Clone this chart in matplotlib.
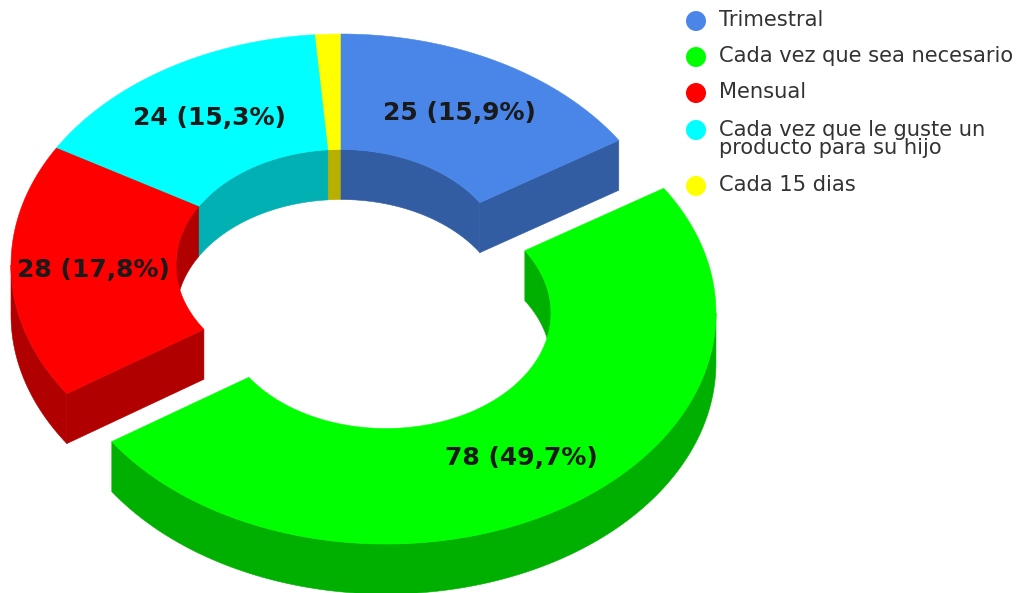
import numpy as np
import matplotlib
matplotlib.use("Agg")
import matplotlib.pyplot as plt
from matplotlib.patches import Polygon, Circle

labels = ["Trimestral", "Cada vez que sea necesario", "Mensual",
          "Cada vez que le guste un\nproducto para su hijo", "Cada 15 dias"]
values = [25, 78, 28, 24, 2]
slice_labels = ["25 (15,9%)", "78 (49,7%)", "28 (17,8%)", "24 (15,3%)", None]
colors = ["#4a86e8", "#00ff00", "#ff0000", "#00ffff", "#ffff00"]
dark = ["#325da3", "#00b000", "#b00000", "#00b0b2", "#b8b000"]
explode = [0, 82, 0, 0, 0]
draw_order = [4, 3, 0, 2, 1]

CX, CY = 341, 265
A, B = 330, 231
IN = 0.5
DEPTH = 50
ratio = B / A

fig = plt.figure(figsize=(10.18, 5.93), dpi=100)
ax = fig.add_axes([0, 0, 1, 1])
ax.set_xlim(0, 1018)
ax.set_ylim(593, 0)
ax.axis("off")


def arc(t0, t1, k, dx, dy, dz=0):
    t = np.radians(np.linspace(t0, t1, max(int(abs(t1 - t0)) * 2, 2)))
    return np.column_stack([CX + dx + k * A * np.sin(t),
                            CY + dy - k * B * np.cos(t) + dz])


def wall(t0, t1, k, dx, dy, col, z):
    if t1 <= t0:
        return
    top = arc(t0, t1, k, dx, dy)
    bot = arc(t0, t1, k, dx, dy, DEPTH)
    ax.add_patch(Polygon(np.vstack([top, bot[::-1]]), fc=col, ec=col, lw=0.4, zorder=z))


total = sum(values)
ang = np.concatenate([[0], np.cumsum(values) / total * 360])

for z, i in enumerate(draw_order):
    t0, t1 = ang[i], ang[i + 1]
    mid = np.radians((t0 + t1) / 2)
    dx = explode[i] * np.sin(mid)
    dy = -explode[i] * ratio * np.cos(mid)
    base = z * 10
    wall(max(t0, 0), min(t1, 90), IN, dx, dy, dark[i], base)
    wall(max(t0, 270), min(t1, 360), IN, dx, dy, dark[i], base)
    wall(max(t0, 90), min(t1, 270), 1, dx, dy, dark[i], base + 1)
    for t, vis in ((t0, np.sin(np.radians(t0)) < -1e-6), (t1, np.sin(np.radians(t1)) > 1e-6)):
        if vis:
            a = arc(t, t, 1, dx, dy)[0]
            b = arc(t, t, IN, dx, dy)[0]
            ax.add_patch(Polygon([a, b, b + [0, DEPTH], a + [0, DEPTH]],
                                 fc=dark[i], ec=dark[i], lw=0.4, zorder=base + 2))
    ax.add_patch(Polygon(np.vstack([arc(t0, t1, 1, dx, dy), arc(t0, t1, IN, dx, dy)[::-1]]),
                         fc=colors[i], ec=colors[i], lw=0.4, zorder=base + 3))
    if slice_labels[i]:
        ax.text(CX + dx + 0.75 * A * np.sin(mid), CY + dy - 0.75 * B * np.cos(mid),
                slice_labels[i], ha="center", va="center", fontsize=18,
                fontweight="bold", color="#1a1a1a", family="DejaVu Sans", zorder=200)

legend_y = [20, 56, 92, 139, 185]
marker_y = [21, 57, 93, 130, 186]
for lab, col, y, my in zip(labels, colors, legend_y, marker_y):
    ax.add_patch(Circle((696, my), 10, fc=col, ec="none", zorder=200))
    ax.text(719, y, lab, ha="left", va="center", fontsize=15.1, color="#333333",
            family="DejaVu Sans", linespacing=0.82, zorder=200)

fig.savefig("out.png", dpi=100, facecolor="white")
